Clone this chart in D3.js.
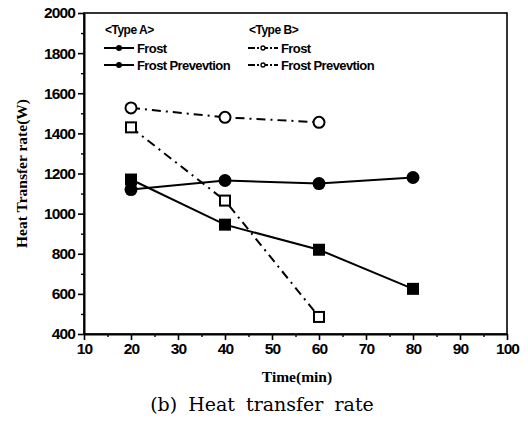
<!DOCTYPE html>
<html><head><meta charset="utf-8">
<script src="https://cdn.jsdelivr.net/npm/d3@7"></script>
<style>body{margin:0;background:#fff}svg{display:block}</style>
</head><body>
<svg id="c" width="528" height="421"></svg>
<script>
const timesA = [20, 40, 60, 80];
const timesB = [20, 40, 60];
const aFrost = [1170, 945, 820, 625];
const aPrev = [1120, 1165, 1150, 1180];
const bFrost = [1430, 1065, 485];
const bPrev = [1527, 1480, 1455];
const xTicks = [10, 20, 30, 40, 50, 60, 70, 80, 90, 100];
const yTicks = [400, 600, 800, 1000, 1200, 1400, 1600, 1800, 2000];

const series = [
  {x: timesA, y: aFrost, marker: "square", fill: true, dash: null},
  {x: timesA, y: aPrev, marker: "circle", fill: true, dash: null},
  {x: timesB, y: bFrost, marker: "square", fill: false, dash: "9,5,2,5"},
  {x: timesB, y: bPrev, marker: "circle", fill: false, dash: "9,5,2,5"}
];

const svg = d3.select("#c");
const L = 84, R = 507, T = 13, B = 334;
const x = d3.scaleLinear().domain([10, 100]).range([L, R]);
const y = d3.scaleLinear().domain([400, 2000]).range([B, T]);

// frame
svg.append("rect").attr("x", L).attr("y", T).attr("width", R - L).attr("height", B - T)
  .attr("fill", "none").attr("stroke", "#000").attr("stroke-width", 1.6);

const tickFont = "Arial, 'Liberation Sans', sans-serif";
const fmt = d3.format("d");
// x axis
const xa = svg.append("g").attr("transform", `translate(0,${B})`)
  .call(d3.axisBottom(x).tickValues(xTicks).tickFormat(fmt).tickSize(6).tickSizeOuter(0).tickPadding(3));
xa.select(".domain").attr("stroke-width", 2);
xa.selectAll(".tick line").attr("stroke-width", 1.6);
xa.selectAll("text").attr("font-family", tickFont).attr("font-size", 15.5).attr("font-weight", "bold")
  .attr("letter-spacing", -0.9).attr("fill", "#000");
const xm = svg.append("g").attr("transform", `translate(0,${B})`)
  .call(d3.axisBottom(x).tickValues(d3.range(15, 100, 10)).tickSize(3).tickFormat(""));
xm.select(".domain").remove();
xm.selectAll(".tick line").attr("stroke-width", 1.4);

// y axis
const ya = svg.append("g").attr("transform", `translate(${L},0)`)
  .call(d3.axisLeft(y).tickValues(yTicks).tickFormat(fmt).tickSize(6).tickSizeOuter(0).tickPadding(3));
ya.select(".domain").attr("stroke-width", 2);
ya.selectAll(".tick line").attr("stroke-width", 1.6);
ya.selectAll("text").attr("font-family", tickFont).attr("font-size", 15.5).attr("font-weight", "bold")
  .attr("letter-spacing", -0.9).attr("fill", "#000");
const ym = svg.append("g").attr("transform", `translate(${L},0)`)
  .call(d3.axisLeft(y).tickValues(d3.range(500, 2000, 100).filter(v => v % 200 !== 0)).tickSize(3).tickFormat(""));
ym.select(".domain").remove();
ym.selectAll(".tick line").attr("stroke-width", 1.4);

// axis titles
svg.append("text").attr("x", 297).attr("y", 382).attr("text-anchor", "middle")
  .attr("font-family", "'Times New Roman', 'Liberation Serif', serif").attr("font-weight", "bold")
  .attr("font-size", 15.5).text("Time(min)");
svg.append("text").attr("transform", `translate(27,${(T + B) / 2}) rotate(-90)`).attr("text-anchor", "middle")
  .attr("font-family", "'Times New Roman', 'Liberation Serif', serif").attr("font-weight", "bold")
  .attr("font-size", 15.5).text("Heat Transfer rate(W)");
svg.append("text").attr("x", 262).attr("y", 411).attr("text-anchor", "middle")
  .attr("font-family", "'DejaVu Serif', 'Liberation Serif', serif")
  .attr("font-size", 19).attr("word-spacing", 5).text("(b) Heat transfer rate");

// series
const line = d3.line().x(d => x(d[0])).y(d => y(d[1]));
function drawMarker(g, m, cx, cy, fill, s) {
  if (m === "square") {
    const h = fill ? s : s - 2;
    g.append("rect").attr("x", cx - h / 2).attr("y", cy - h / 2).attr("width", h).attr("height", h)
      .attr("fill", fill ? "#000" : "#fff").attr("stroke", "#000").attr("stroke-width", fill ? 0 : 2);
  } else {
    const r = fill ? s / 2 + 0.5 : s / 2 - 0.5;
    g.append("circle").attr("cx", cx).attr("cy", cy).attr("r", r)
      .attr("fill", fill ? "#000" : "#fff").attr("stroke", "#000").attr("stroke-width", fill ? 0 : (s > 6 ? 2 : 1.3));
  }
}
const gl = svg.append("g");
series.forEach(s => {
  const pts = s.x.map((v, i) => [v, s.y[i]]);
  gl.append("path").attr("d", line(pts)).attr("fill", "none").attr("stroke", "#000")
    .attr("stroke-width", 2).attr("stroke-dasharray", s.dash);
});
series.forEach(s => {
  s.x.forEach((v, i) => drawMarker(gl, s.marker, x(v), y(s.y[i]), s.fill, 12));
});

// legend
const lf = "Arial, 'Liberation Sans', sans-serif";
const legCols = [
  {x0: 104, title: "<Type A>", items: [series[0], series[1]]},
  {x0: 248, title: "<Type B>", items: [series[2], series[3]]}
];
const labels = ["Frost", "Frost Prevevtion"];
legCols.forEach(col => {
  svg.append("text").attr("x", col.x0 + 1).attr("y", 34).attr("font-family", lf).attr("font-weight", "bold")
    .attr("font-size", 12).attr("letter-spacing", -0.5).text(col.title);
  col.items.forEach((s, i) => {
    const yy = 48 + i * 17;
    svg.append("line").attr("x1", col.x0).attr("x2", col.x0 + 30).attr("y1", yy).attr("y2", yy)
      .attr("stroke", "#000").attr("stroke-width", 2).attr("stroke-dasharray", s.dash ? "7,2,2,2" : null);
    drawMarker(svg, "circle", col.x0 + 15, yy, s.fill, 5);
    svg.append("text").attr("x", col.x0 + 33).attr("y", yy + 4.5).attr("font-family", lf).attr("font-weight", "bold")
      .attr("font-size", 13).attr("letter-spacing", -0.6).text(labels[i]);
  });
});
</script>
</body></html>
